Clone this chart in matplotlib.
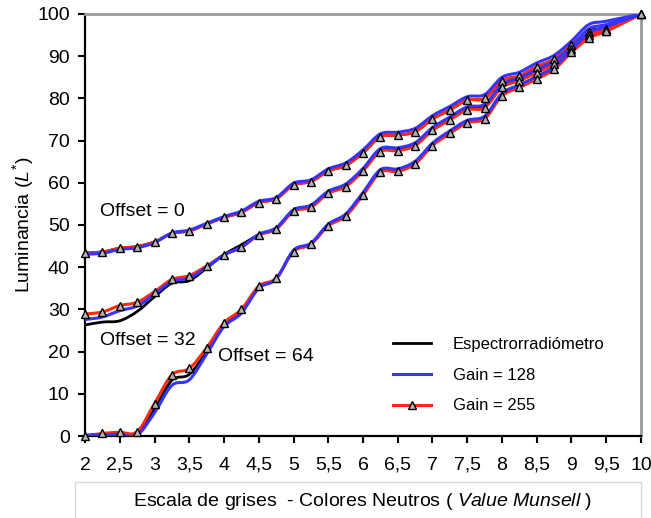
import matplotlib
matplotlib.use("Agg")
import matplotlib.pyplot as plt
from matplotlib.lines import Line2D
from matplotlib.patches import Rectangle, PathPatch
from matplotlib.path import Path

plt.rcParams['font.family'] = ['Liberation Sans', 'DejaVu Sans']
plt.rcParams['mathtext.fontset'] = 'custom'
plt.rcParams['mathtext.rm'] = 'Liberation Sans'
plt.rcParams['mathtext.it'] = 'Liberation Sans:italic'

# munsell value (x) - one point every 0.25, 9.75 missing
value = [2.0, 2.25, 2.5, 2.75, 3.0, 3.25, 3.5, 3.75, 4.0, 4.25, 4.5, 4.75,
         5.0, 5.25, 5.5, 5.75, 6.0, 6.25, 6.5, 6.75, 7.0, 7.25, 7.5, 7.75,
         8.0, 8.25, 8.5, 8.75, 9.0, 9.25, 9.5, 10.0]

# offset = 0
spec_0 = [43.4, 43.6, 44.5, 44.9, 46.0, 48.0, 48.6, 50.2, 51.8, 53.0, 55.3, 56.2,
          59.5, 60.3, 62.8, 64.1, 67.1, 70.9, 71.3, 72.1, 75.1, 77.3, 79.6, 80.0,
          84.2, 85.3, 87.5, 89.3, 92.7, 96.0, 96.8, 100.0]
g128_0 = [43.1, 43.3, 44.2, 44.6, 45.8, 48.1, 48.8, 50.4, 52.0, 53.3, 55.6, 56.5,
          59.9, 60.7, 63.3, 64.7, 67.8, 71.6, 72.0, 72.9, 75.9, 78.1, 80.4, 80.9,
          85.0, 86.2, 88.4, 90.2, 93.6, 97.5, 98.3, 100.0]
g255_0 = [43.4, 43.6, 44.5, 44.9, 46.0, 48.0, 48.6, 50.2, 51.8, 53.0, 55.3, 56.2,
          59.5, 60.3, 62.8, 64.1, 67.1, 70.9, 71.3, 72.1, 75.1, 77.3, 79.6, 80.0,
          84.2, 85.3, 87.5, 89.3, 92.7, 95.8, 96.4, 100.0]

# offset = 32
spec_32 = [26.3, 27.0, 27.3, 29.5, 33.0, 36.2, 36.8, 39.8, 43.0, 45.3, 47.7, 49.3,
           53.5, 54.6, 57.8, 59.4, 63.2, 67.9, 67.9, 69.1, 72.7, 75.2, 77.6, 78.1,
           82.9, 84.5, 86.4, 88.5, 91.9, 95.5, 96.5, 100.0]
g128_32 = [27.6, 28.2, 29.7, 30.8, 33.6, 36.6, 37.4, 40.0, 42.9, 44.8, 47.8, 49.3,
           53.6, 54.7, 58.0, 59.7, 63.4, 68.1, 68.3, 69.5, 73.1, 75.6, 78.0, 78.6,
           83.3, 84.9, 86.8, 88.9, 92.3, 96.5, 97.5, 100.0]
g255_32 = [28.9, 29.4, 30.9, 31.7, 34.2, 37.1, 38.0, 40.3, 42.9, 44.7, 47.6, 49.0,
           53.2, 54.2, 57.5, 59.1, 62.8, 67.4, 67.6, 68.8, 72.4, 74.9, 77.3, 77.8,
           82.6, 84.2, 86.1, 88.2, 91.6, 95.0, 96.0, 100.0]

# offset = 64
spec_64 = [0.1, 0.4, 0.6, 0.5, 6.5, 13.2, 14.6, 20.1, 26.3, 29.5, 35.2, 37.3,
           43.8, 45.5, 49.9, 52.2, 57.2, 62.6, 62.8, 64.6, 68.9, 71.8, 74.3, 75.3,
           80.7, 82.7, 84.7, 87.0, 91.0, 94.6, 96.2, 100.0]
g128_64 = [0.2, 0.3, 0.4, 0.2, 5.5, 12.0, 13.3, 19.4, 25.9, 29.1, 35.0, 37.2,
           44.0, 45.7, 50.2, 52.6, 57.7, 63.1, 63.3, 65.1, 69.4, 72.3, 74.8, 75.8,
           81.2, 83.2, 85.2, 87.5, 91.5, 95.5, 97.0, 100.0]
g255_64 = [0.0, 0.6, 0.9, 1.0, 7.7, 14.5, 16.0, 20.9, 26.8, 30.0, 35.5, 37.4,
           43.7, 45.4, 49.8, 52.1, 57.1, 62.5, 62.7, 64.5, 68.8, 71.7, 74.2, 75.2,
           80.6, 82.6, 84.6, 86.9, 90.9, 94.3, 95.9, 100.0]

xticks = [2, 2.5, 3, 3.5, 4, 4.5, 5, 5.5, 6, 6.5, 7, 7.5, 8, 8.5, 9, 9.5, 10]
xticklabels = ['2', '2,5', '3', '3,5', '4', '4,5', '5', '5,5', '6', '6,5',
               '7', '7,5', '8', '8,5', '9', '9,5', '10']
yticks = [0, 10, 20, 30, 40, 50, 60, 70, 80, 90, 100]

RED = '#ff2a10'
BLUE = '#3535ff'


def smooth_line(ax, xs, ys, **kw):
    # excel style smoothed line: bezier segments through the data points
    n = len(xs)
    verts = [(xs[0], ys[0])]
    codes = [Path.MOVETO]
    for i in range(n - 1):
        i0 = max(i - 1, 0)
        i3 = min(i + 2, n - 1)
        c1 = (xs[i] + (xs[i + 1] - xs[i0]) / 6, ys[i] + (ys[i + 1] - ys[i0]) / 6)
        c2 = (xs[i + 1] - (xs[i3] - xs[i]) / 6, ys[i + 1] - (ys[i3] - ys[i]) / 6)
        verts += [c1, c2, (xs[i + 1], ys[i + 1])]
        codes += [Path.CURVE4] * 3
    p = PathPatch(Path(verts, codes), fill=False, capstyle='round',
                  joinstyle='round', transform=ax.transData, **kw)
    ax.add_patch(p)


fig = plt.figure(figsize=(6.51, 5.18), dpi=100)
ax = fig.add_axes([0.1306, 0.1583, 0.8540, 0.8147])

for spec, g128, g255 in [(spec_0, g128_0, g255_0),
                         (spec_32, g128_32, g255_32),
                         (spec_64, g128_64, g255_64)]:
    smooth_line(ax, value, spec, edgecolor='black', lw=2, zorder=2)
    smooth_line(ax, value, g255, edgecolor=RED, lw=2.2, zorder=3)
    smooth_line(ax, value, g128, edgecolor=BLUE, lw=2.2, zorder=4)
    ax.plot(value, g255, ls='none', marker='^', ms=6, mfc='#b4b4b4', mec='black',
            mew=1, zorder=5, clip_on=False)

ax.set_xlim(2, 10)
ax.set_ylim(0, 100)
ax.set_xticks(xticks)
ax.set_xticklabels(xticklabels)
ax.set_yticks(yticks)
ax.tick_params(axis='x', direction='out', length=5, width=1.5, pad=10, labelsize=14)
ax.tick_params(axis='y', direction='out', length=5, width=1.5, pad=6, labelsize=14)

for s in ['left', 'bottom']:
    ax.spines[s].set_color('black')
    ax.spines[s].set_linewidth(1.6)
for s in ['top', 'right']:
    ax.spines[s].set_color('#999999')
    ax.spines[s].set_linewidth(2)

ax.set_ylabel(r'Luminancia ($\mathit{L}^{*}$)', fontsize=14, labelpad=1)

ax.text(2.22, 53.1, 'Offset = 0', fontsize=14, ha='left', va='center')
ax.text(2.22, 22.6, 'Offset = 32', fontsize=14, ha='left', va='center')
ax.text(3.92, 18.8, 'Offset = 64', fontsize=14, ha='left', va='center')

handles = [Line2D([], [], color='black', lw=2),
           Line2D([], [], color=BLUE, lw=2.2),
           Line2D([], [], color=RED, lw=2.2, marker='^', ms=6, mfc='#b4b4b4',
                  mec='black', mew=1)]
labels = ['Espectrorradiómetro', 'Gain = 128', 'Gain = 255']
fig.legend(handles, labels, loc='center left', bbox_to_anchor=(0.593, 0.276),
           frameon=False, fontsize=12, handlelength=2.3, handletextpad=1.3,
           labelspacing=0.95, borderaxespad=0)

# x-axis title in its light box
fig.patches.append(Rectangle((75 / 651, -0.05), (641 - 75) / 651, 0.05 + (518 - 482) / 518,
                             transform=fig.transFigure, fill=False,
                             edgecolor='#d8d8d8', lw=1))
fig.text((85 + 641) / 2 / 651, 1 - 502 / 518,
         r'Escala de grises  - Colores Neutros ( $\mathit{Value\ Munsell}$ )',
         fontsize=14, ha='center', va='center')

fig.savefig('out.png', dpi=100)
